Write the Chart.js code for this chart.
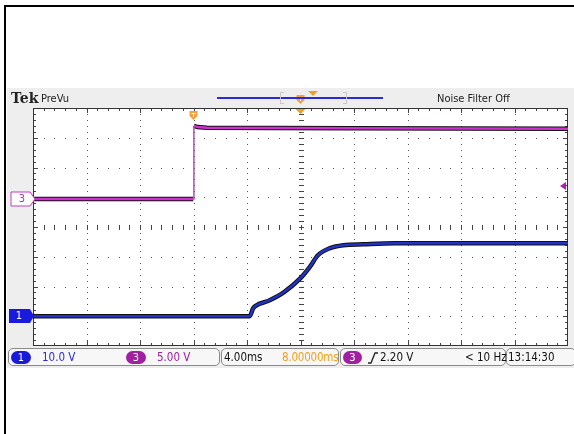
<!DOCTYPE html>
<html><head><meta charset="utf-8">
<script src="https://cdn.jsdelivr.net/npm/chart.js@4/dist/chart.umd.min.js"></script>
<style>
html,body{margin:0;padding:0;background:#fff;}
#wrap{position:relative;width:574px;height:434px;overflow:hidden;font-family:"DejaVu Sans Condensed","Liberation Sans Narrow","Liberation Sans",sans-serif;}
.abs{position:absolute;white-space:nowrap;}
#band{position:absolute;left:7px;top:88px;width:567px;height:280px;background:#eeeeee;}
canvas{position:absolute;left:0;top:0;}
.box{position:absolute;top:348px;height:18px;border:1px solid #8a8a8a;border-radius:5px;background:#f7f7f7;box-sizing:border-box;}
.pill{position:absolute;top:351px;height:13px;border-radius:7px;color:#fff;font-size:11px;line-height:13px;text-align:center;}
.ft{position:absolute;top:350px;font-size:11.5px;line-height:14px;}
</style></head>
<body>
<div id="wrap">
  <div class="abs" style="left:4px;top:5px;width:570px;height:2px;background:#000"></div>
  <div class="abs" style="left:4px;top:5px;width:2px;height:429px;background:#000"></div>
  <div id="band"></div>
  <canvas id="c" width="574" height="434"></canvas>

  <!-- header -->
  <div class="abs" style="left:11px;top:90px;font-family:'DejaVu Serif','Liberation Serif',serif;font-weight:bold;font-size:14px;line-height:16px;color:#222">Tek</div>
  <div class="abs" style="left:41px;top:92px;font-size:11px;line-height:13px;color:#222">PreVu</div>
  <div class="abs" style="left:217px;top:97px;width:166px;height:1.5px;background:#2a2ad8"></div>
  <div class="abs" style="left:280px;top:92px;width:3px;height:10px;border:1px solid #c8c8c8;border-right:none"></div>
  <div class="abs" style="left:343px;top:92px;width:3px;height:10px;border:1px solid #c8c8c8;border-left:none"></div>
  <div class="abs" style="left:437px;top:92px;font-size:11px;line-height:13px;color:#222">Noise Filter Off</div>

  <!-- left channel markers -->
  <svg class="abs" style="left:10px;top:191px" width="28" height="16"><polygon points="1,1 20,1 25,8 20,15 1,15" fill="#fff" stroke="#c040c0" stroke-width="1"/></svg>
  <div class="abs" style="left:13px;top:192px;width:18px;text-align:center;font-size:11px;line-height:14px;color:#b030b0">3</div>
  <svg class="abs" style="left:9px;top:309px" width="28" height="15"><polygon points="0,0 21,0 25,7 21,14 0,14" fill="#1a1adc"/></svg>
  <div class="abs" style="left:11px;top:309px;width:16px;text-align:center;font-size:11px;line-height:14px;color:#fff">1</div>

  <!-- footer -->
  <div class="box" style="left:8px;width:212px"></div>
  <div class="box" style="left:221px;width:118px"></div>
  <div class="box" style="left:340px;width:166px"></div>
  <div class="box" style="left:506px;width:70px"></div>
  <div class="pill" style="left:11px;width:20px;background:#1a1adc">1</div>
  <div class="ft" style="left:42px;color:#2a2ad8">10.0 V</div>
  <div class="pill" style="left:126px;width:20px;background:#a020a0">3</div>
  <div class="ft" style="left:157px;color:#a020a0">5.00 V</div>
  <div class="ft" style="left:224px;color:#111">4.00ms</div>
  <div class="ft" style="left:282px;color:#f0a020;letter-spacing:-0.2px">8.00000ms</div>
  <div class="pill" style="left:343px;width:19px;background:#a020a0">3</div>
  <svg class="abs" style="left:367px;top:351px" width="12" height="13"><path d="M1,12 L4,12 L8,2 L11,2" fill="none" stroke="#222" stroke-width="1.3"/></svg>
  <div class="ft" style="left:380px;color:#111">2.20 V</div>
  <div class="ft" style="left:465px;color:#111">&lt; 10 Hz</div>
  <div class="ft" style="left:508px;color:#111">13:14:30</div>
</div>
<script>
// ---- data (time in ms, voltages in V) ----
const X_MIN = -12, X_MAX = 28, X_DIV = 4;          // 4.00 ms/div, 10 divisions
const Y_MIN = -4, Y_MAX = 4;                       // 8 vertical divisions
const CH1_SCALE = 10.0, CH1_OFFSET = -3.0;         // V/div, ground marker (div)
const CH3_SCALE = 5.00, CH3_OFFSET = 0.94;
const TRIG_LEVEL = 2.20;                           // V on CH3

const ch3Time  = [-12, -0.02, 0.03, 0.3, 1.0, 6, 12, 20, 28];
const ch3Volts = [0.0, 0.0, 12.3, 12.1, 12.0, 11.95, 11.9, 11.85, 11.8];

const ch1Time  = [-12, 4.2, 4.45, 4.65, 5.7, 6.8, 8.0, 8.7, 9.3, 10.2, 11.2, 12.7, 15, 28];
const ch1Volts = [0.0, 0.0, 2.6, 3.5, 5.4, 8.2, 12.8, 16.6, 20.5, 22.9, 23.9, 24.2, 24.5, 24.5];

const toPts = (t, v, scale, off) => t.map((x, i) => ({x, y: off + v[i] / scale}));
const ch3Pts = toPts(ch3Time, ch3Volts, CH3_SCALE, CH3_OFFSET);
const ch1Pts = toPts(ch1Time, ch1Volts, CH1_SCALE, CH1_OFFSET);

// the steep edge of CH3 is drawn thin, without the black persistence envelope
const isEdge = c => c.p0.parsed.x < 0 && c.p1.parsed.x >= 0;

const scopeGrid = {
  id: 'scopeGrid',
  beforeDatasetsDraw(chart) {
    const {ctx, chartArea: a, scales: {x: xs, y: ys}} = chart;
    ctx.save();
    ctx.fillStyle = '#fff';
    ctx.fillRect(a.left, a.top, a.right - a.left, a.bottom - a.top);
    ctx.fillStyle = '#555';
    const nx = (X_MAX - X_MIN) / X_DIV;
    for (let i = 1; i < nx; i++) {
      const px = Math.round(xs.getPixelForValue(X_MIN + i * X_DIV));
      for (let k = 1; k < (Y_MAX - Y_MIN) * 5; k++) {
        const py = Math.round(ys.getPixelForValue(Y_MIN + k * 0.2));
        ctx.fillRect(px, py, 1, 1);
      }
    }
    for (let j = 1; j < Y_MAX - Y_MIN; j++) {
      const py = Math.round(ys.getPixelForValue(Y_MIN + j));
      for (let k = 1; k < nx * 5; k++) {
        const px = Math.round(xs.getPixelForValue(X_MIN + k * X_DIV / 5));
        ctx.fillRect(px, py, 1, 1);
      }
    }
    const cx = Math.round(xs.getPixelForValue((X_MIN + X_MAX) / 2));
    const cy = Math.round(ys.getPixelForValue(0));
    ctx.fillStyle = '#444';
    for (let k = 1; k < (Y_MAX - Y_MIN) * 5; k++) {
      const py = Math.round(ys.getPixelForValue(Y_MIN + k * 0.2));
      ctx.fillRect(cx - 2, py, 5, 1);
    }
    for (let k = 1; k < nx * 5; k++) {
      const px = Math.round(xs.getPixelForValue(X_MIN + k * X_DIV / 5));
      ctx.fillRect(px, cy - 2, 1, 5);
    }
    for (let k = 1; k < nx * 5; k++) {
      const px = Math.round(xs.getPixelForValue(X_MIN + k * X_DIV / 5));
      const len = (k % 5 === 0) ? 5 : 3;
      ctx.fillRect(px, a.top, 1, len);
      ctx.fillRect(px, a.bottom - len, 1, len);
    }
    for (let k = 1; k < (Y_MAX - Y_MIN) * 5; k++) {
      const py = Math.round(ys.getPixelForValue(Y_MIN + k * 0.2));
      const len = (k % 5 === 0) ? 5 : 3;
      ctx.fillRect(a.left, py, len, 1);
      ctx.fillRect(a.right - len, py, len, 1);
    }
    ctx.strokeStyle = '#333';
    ctx.lineWidth = 1;
    ctx.strokeRect(a.left + 0.5, a.top + 0.5, a.right - a.left - 1, a.bottom - a.top - 1);
    ctx.restore();
  },
  afterDraw(chart) {
    const {ctx, chartArea: a, scales: {x: xs, y: ys}} = chart;
    ctx.save();
    const ty = ys.getPixelForValue(CH3_OFFSET + TRIG_LEVEL / CH3_SCALE);
    ctx.fillStyle = '#b020b0';
    ctx.beginPath();
    ctx.moveTo(a.right - 8, ty); ctx.lineTo(a.right - 2, ty - 4); ctx.lineTo(a.right - 2, ty + 4); ctx.closePath(); ctx.fill();
    const tx = xs.getPixelForValue(0);
    const shield = (x, y) => {
      ctx.fillStyle = '#f2a040';
      ctx.beginPath();
      ctx.moveTo(x - 4, y - 5); ctx.lineTo(x + 4, y - 5); ctx.lineTo(x + 4, y); ctx.lineTo(x, y + 4); ctx.lineTo(x - 4, y); ctx.closePath(); ctx.fill();
      ctx.fillStyle = '#fff';
      ctx.fillRect(x - 2, y - 3, 4, 1); ctx.fillRect(x - 0.5, y - 3, 1, 4);
    };
    shield(tx, a.top + 8);
    const cx = xs.getPixelForValue((X_MIN + X_MAX) / 2);
    ctx.fillStyle = '#f0a020';
    ctx.beginPath();
    ctx.moveTo(cx - 5, a.top + 1); ctx.lineTo(cx + 5, a.top + 1); ctx.lineTo(cx, a.top + 6); ctx.closePath(); ctx.fill();
    shield(cx, 100);
    ctx.fillStyle = '#f0a020';
    ctx.beginPath();
    ctx.moveTo(308, 91); ctx.lineTo(318, 91); ctx.lineTo(313, 96); ctx.closePath(); ctx.fill();
    ctx.restore();
  }
};

const common = {showLine: true, pointRadius: 0, fill: false, borderCapStyle: 'butt'};
new Chart(document.getElementById('c'), {
  type: 'line',
  data: {
    datasets: [
      {...common, data: ch3Pts, borderColor: '#d030d0', borderWidth: 2.5, order: 1,
        segment: {borderWidth: c => isEdge(c) ? 1.5 : 2.5, borderColor: c => isEdge(c) ? '#b050b0' : '#d030d0'}},
      {...common, data: ch3Pts, borderColor: '#111', borderWidth: 4.5, order: 2,
        segment: {borderColor: c => isEdge(c) ? 'rgba(0,0,0,0)' : '#111'}},
      {...common, data: ch1Pts, borderColor: '#2233c4', borderWidth: 2.5, order: 1, cubicInterpolationMode: 'monotone'},
      {...common, data: ch1Pts, borderColor: '#111', borderWidth: 4.5, order: 2, cubicInterpolationMode: 'monotone'}
    ]
  },
  options: {
    responsive: false,
    devicePixelRatio: 1,
    animation: false,
    layout: {padding: {left: 33, top: 108, right: 6, bottom: 88}},
    plugins: {legend: {display: false}, tooltip: {enabled: false}},
    scales: {
      x: {type: 'linear', min: X_MIN, max: X_MAX, display: false},
      y: {type: 'linear', min: Y_MIN, max: Y_MAX, display: false}
    }
  },
  plugins: [scopeGrid]
});
</script>
</body></html>
